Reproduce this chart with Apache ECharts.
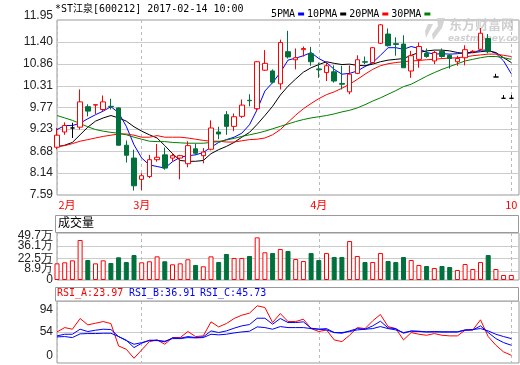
<!DOCTYPE html>
<html>
<head>
<meta charset="utf-8">
<title>*ST江泉 日K</title>
<script src="https://cdn.jsdelivr.net/npm/echarts@6.0.0/dist/echarts.min.js"></script>
<style>
  html, body { margin: 0; padding: 0; background: #fff; }
  #kline { width: 520px; height: 365px; }
</style>
</head>
<body>
<div id="kline"></div>
<script>
// *ST江泉[600212] 日K, 60个交易日

// 横轴上标出的日期
var tickIdx = [0, 11, 34, 59];
var tickText = ['2月', '3月', '4月', '10'];

// 开 收 低 高
var open = [8.78, 9.16, 9.26, 9.28, 9.79, 9.83, 9.72, 9.80, 9.76, 8.83,
  8.51, 7.98, 8.05, 8.47, 8.59, 8.51, 8.51, 8.37, 8.74, 8.57,
  8.73, 9.16, 9.59, 9.30, 9.55, 9.95, 9.74, 10.70, 10.68, 10.36,
  11.16, 10.96, 11.21, 11.11, 10.73, 10.64, 10.66, 10.37, 10.16, 10.62,
  10.91, 10.89, 11.37, 11.60, 11.36, 11.35, 10.68, 10.97, 11.12, 10.93,
  11.17, 11.07, 10.91, 11.01, 11.16, 11.22, 11.49, 10.53, 10.00, 10.00];
var close = [9.08, 9.32, 9.26, 9.91, 9.68, 9.84, 9.91, 9.79, 8.83, 8.58,
  7.82, 8.07, 8.47, 8.53, 8.26, 8.57, 8.57, 8.82, 8.63, 8.66,
  9.26, 9.11, 9.30, 9.54, 9.83, 9.94, 10.91, 10.87, 10.40, 11.39,
  11.03, 11.01, 11.24, 10.91, 10.71, 10.81, 10.43, 10.35, 10.60, 10.96,
  10.90, 11.26, 11.83, 11.31, 11.34, 10.76, 11.06, 11.29, 11.04, 11.14,
  11.04, 10.99, 10.99, 11.21, 11.17, 11.62, 11.16, 10.53, 10.00, 10.00];
var low = [8.73, 9.09, 9.01, 9.22, 9.55, 9.61, 9.68, 9.72, 8.82, 8.40,
  7.70, 7.71, 8.01, 8.42, 8.22, 8.42, 7.98, 8.28, 8.59, 8.38,
  8.70, 8.98, 9.09, 9.18, 9.51, 9.80, 9.68, 10.68, 10.37, 10.22,
  10.99, 10.72, 11.04, 10.81, 10.51, 10.43, 10.39, 10.22, 10.10, 10.60,
  10.85, 10.86, 11.35, 11.29, 11.06, 10.76, 10.51, 10.76, 11.01, 10.85,
  11.01, 10.74, 10.81, 10.82, 11.12, 11.18, 11.12, 10.53, 10.00, 10.00];
var high = [9.26, 9.40, 9.39, 10.22, 9.85, 9.85, 10.07, 9.99, 9.77, 8.95,
  8.72, 8.13, 8.59, 8.86, 8.77, 8.63, 8.59, 8.93, 8.87, 8.76,
  9.45, 9.29, 9.68, 9.62, 9.97, 10.10, 10.93, 11.20, 10.72, 11.46,
  11.68, 11.24, 11.29, 11.28, 10.89, 10.89, 10.82, 10.81, 10.82, 11.07,
  11.04, 11.27, 11.85, 11.74, 11.52, 11.57, 11.18, 11.39, 11.24, 11.18,
  11.24, 11.10, 11.06, 11.32, 11.20, 11.75, 11.60, 10.61, 10.08, 10.08];

// 均线
var ma5 = [9.22, 9.32, 9.32, 9.38, 9.49, 9.59, 9.68, 9.79, 9.64, 9.30,
  8.84, 8.51, 8.34, 8.30, 8.26, 8.42, 8.53, 8.57, 8.59, 8.65,
  8.78, 8.90, 8.97, 9.03, 9.13, 9.34, 9.72, 10.18, 10.39, 10.64,
  10.95, 11.00, 11.06, 11.14, 10.99, 10.89, 10.72, 10.60, 10.62, 10.68,
  10.79, 10.89, 11.07, 11.26, 11.26, 11.22, 11.29, 11.24, 11.14, 11.10,
  11.11, 11.10, 11.11, 11.14, 11.14, 11.20, 11.20, 11.12, 10.93, 10.61];
var ma10 = [8.79, 8.83, 8.90, 9.09, 9.28, 9.43, 9.51, 9.57, 9.51, 9.43,
  9.29, 9.18, 9.09, 9.01, 8.82, 8.62, 8.45, 8.43, 8.43, 8.45,
  8.62, 8.72, 8.80, 8.90, 9.03, 9.15, 9.35, 9.57, 9.80, 10.08,
  10.30, 10.48, 10.65, 10.76, 10.84, 10.91, 10.87, 10.84, 10.85, 10.82,
  10.81, 10.85, 10.91, 10.95, 10.97, 10.99, 11.07, 11.14, 11.18, 11.20,
  11.20, 11.18, 11.14, 11.11, 11.14, 11.16, 11.18, 11.14, 11.01, 10.89];
var ma20 = [8.80, 8.82, 8.87, 8.93, 8.97, 9.01, 9.05, 9.08, 9.11, 9.11,
  9.08, 9.03, 9.03, 9.07, 9.03, 9.03, 9.03, 9.01, 8.98, 8.95,
  8.93, 8.93, 8.91, 8.91, 8.94, 8.97, 8.98, 9.01, 9.09, 9.22,
  9.40, 9.58, 9.74, 9.87, 9.99, 10.09, 10.16, 10.25, 10.35, 10.47,
  10.60, 10.72, 10.81, 10.86, 10.89, 10.91, 10.93, 10.94, 10.96, 10.97,
  10.99, 11.00, 11.01, 11.03, 11.06, 11.08, 11.10, 11.10, 11.07, 11.04];
var ma30 = [9.57, 9.51, 9.45, 9.37, 9.29, 9.22, 9.18, 9.15, 9.13, 9.09,
  9.03, 8.98, 8.93, 8.92, 8.92, 8.90, 8.89, 8.88, 8.88, 8.88,
  8.90, 8.92, 8.96, 9.00, 9.05, 9.09, 9.13, 9.18, 9.24, 9.30,
  9.36, 9.42, 9.47, 9.51, 9.54, 9.57, 9.61, 9.66, 9.70, 9.76,
  9.84, 9.93, 10.01, 10.10, 10.19, 10.29, 10.35, 10.45, 10.55, 10.64,
  10.72, 10.79, 10.86, 10.93, 10.97, 11.01, 11.04, 11.04, 11.01, 10.97];

// 成交量(万)
var vol = [17.6, 18.7, 20.8, 42.3, 21.1, 17.6, 20.8, 18.0, 24.0, 19.0,
  26.4, 18.7, 19.8, 25.0, 19.8, 16.6, 17.6, 21.9, 15.9, 14.5,
  25.0, 19.0, 27.5, 23.3, 23.3, 25.4, 45.1, 29.3, 28.5, 32.8,
  30.7, 22.2, 20.1, 28.5, 21.1, 28.5, 24.3, 24.3, 41.2, 25.4,
  19.0, 19.0, 28.5, 20.1, 19.0, 24.3, 21.1, 15.9, 14.8, 12.7,
  14.8, 13.7, 10.6, 16.9, 11.6, 19.0, 26.4, 11.6, 5.3, 5.3];

// RSI
var rsiA = [54.1, 59.7, 57.6, 71.4, 63.2, 65.3, 67.5, 64.9, 36.0, 31.7,
  20.1, 30.9, 41.6, 43.8, 38.2, 46.8, 46.8, 54.6, 48.1, 49.0,
  67.1, 60.6, 64.9, 71.4, 75.7, 78.3, 87.8, 85.6, 66.2, 77.8,
  67.5, 67.5, 70.5, 58.4, 54.6, 56.7, 43.8, 41.6, 49.8, 59.7,
  58.4, 68.4, 76.6, 61.0, 58.4, 43.8, 53.3, 51.1, 49.8, 52.0,
  49.8, 49.0, 49.0, 56.3, 56.7, 69.7, 48.1, 36.9, 28.3, 24.0];
var rsiB = [49.0, 51.1, 51.1, 57.6, 54.6, 56.3, 57.6, 57.2, 48.1, 43.4,
  33.9, 39.5, 43.4, 43.4, 41.2, 46.4, 45.9, 48.1, 46.8, 47.7,
  55.4, 53.3, 55.4, 58.9, 61.9, 63.6, 71.8, 71.8, 64.1, 71.4,
  66.2, 66.2, 67.1, 58.9, 57.6, 58.4, 53.3, 52.4, 55.4, 58.4,
  57.6, 61.9, 67.9, 59.3, 58.4, 52.4, 55.4, 55.0, 54.1, 54.6,
  54.1, 54.1, 54.1, 56.7, 56.7, 61.9, 53.3, 45.5, 40.3, 36.9];
var rsiC = [47.7, 48.1, 46.8, 51.6, 52.0, 52.0, 52.4, 52.4, 48.1, 42.9,
  38.2, 40.3, 42.9, 42.9, 42.1, 45.5, 45.5, 46.8, 46.4, 46.8,
  51.1, 50.3, 51.1, 52.8, 54.1, 55.0, 60.6, 59.7, 57.6, 61.0,
  59.7, 59.7, 59.7, 58.4, 57.6, 56.7, 53.3, 53.3, 54.6, 56.7,
  57.6, 58.4, 61.0, 58.4, 56.7, 53.3, 55.0, 54.6, 54.1, 54.1,
  54.1, 54.1, 54.1, 56.3, 57.2, 58.4, 55.4, 51.1, 48.1, 45.5];

// 纵轴刻度 (成交量刻度分两组, 避免相邻标签被自动隐藏; 底部 0 用极小值代替)
var priceTicks = [7.59, 8.14, 8.68, 9.23, 9.77, 10.31, 10.86, 11.40, 11.95];
var volTicksA = [0.001, 22.5, 49.7];
var volTicksB = [8.9, 36.1];
var rsiTicks = [14, 54, 94];

var RED = '#ff0000';
var GREEN = '#00703c';
var BLUE = '#0000ff';
var MONO = '"DejaVu Sans Mono", "Noto Sans CJK SC", monospace';

var categories = [];
for (var i = 0; i <= open.length; i++) categories.push('');
for (var k = 0; k < tickIdx.length; k++) categories[tickIdx[k]] = tickText[k];

var candleData = open.map(function (o, i) {
  var item = { value: [o, close[i], low[i], high[i]] };
  // 开盘=收盘 画黑色
  if (o === close[i]) {
    item.itemStyle = { color: '#000', color0: '#000', borderColor: '#000', borderColor0: '#000' };
  }
  return item;
});

var volData = vol.map(function (v, i) {
  var up = close[i] >= open[i];
  return {
    value: v,
    itemStyle: up
      ? { color: '#fff', borderColor: RED, borderWidth: 1 }
      : { color: GREEN, borderColor: GREEN, borderWidth: 1 }
  };
});

function showTick(idx) {
  return tickIdx.indexOf(idx) >= 0;
}

function xAxisFor(gridIndex, withLabel) {
  return {
    type: 'category',
    gridIndex: gridIndex,
    data: categories,
    boundaryGap: false,
    axisLine: { show: false },
    axisTick: { show: false },
    axisLabel: {
      show: withLabel,
      interval: 0,
      color: RED,
      fontSize: 11,
      fontFamily: '"Noto Sans CJK SC", sans-serif',
      margin: 4,
      formatter: function (value, idx) {
        return idx === 0 && value ? '{first|' + value + '}' : value;
      },
      rich: { first: { padding: [0, 0, 0, 20], color: RED, fontSize: 11, fontFamily: '"Noto Sans CJK SC", sans-serif' } }
    },
    splitLine: {
      show: true,
      interval: showTick,
      lineStyle: { color: '#bbb', type: [3, 3], width: 1 }
    }
  };
}

var labelBase = { color: '#222', fontSize: 12, fontFamily: '"Liberation Sans", Arial, sans-serif', margin: 4 };

function volAxis(ticks) {
  return {
    type: 'value', gridIndex: 1, min: 0, max: 49.7,
    position: 'left', offset: 0,
    axisLine: { show: false },
    axisTick: { show: false, customValues: ticks },
    axisLabel: Object.assign({}, labelBase, {
      customValues: ticks,
      showMinLabel: true,
      showMaxLabel: true,
      formatter: function (v) {
        if (v < 1) return '0';
        if (v === 49.7) return '{top|49.7万}';
        if (v === 8.9) return '{up|8.9万}';
        return v + '万';
      },
      rich: {
        top: Object.assign({}, labelBase, { padding: [6, 0, 0, 0] }),
        up: Object.assign({}, labelBase, { padding: [0, 0, 6, 0] })
      }
    }),
    splitLine: { lineStyle: { color: '#ccc', width: 1 } }
  };
}

var chart = echarts.init(document.getElementById('kline'));

var option = {
  animation: false,
  backgroundColor: '#fff',
  legend: {
    left: 266,
    top: 4,
    itemWidth: 6,
    itemHeight: 3,
    itemGap: 3,
    align: 'right',
    icon: 'rect',
    selectedMode: false,
    textStyle: { fontFamily: MONO, fontSize: 10, color: '#000', padding: [0, -2, 0, 0] },
    data: ['5PMA', '10PMA', '20PMA', '30PMA']
  },
  grid: [
    { left: 57, right: 1, top: 20, height: 175, show: true, borderColor: '#999', borderWidth: 1, outerBoundsMode: 'none' },
    { left: 57, right: 1, top: 233, height: 47, show: true, borderColor: '#999', borderWidth: 1, outerBoundsMode: 'none' },
    { left: 57, right: 1, top: 301, height: 62, show: true, borderColor: '#999', borderWidth: 1, outerBoundsMode: 'none' }
  ],
  xAxis: [xAxisFor(0, true), xAxisFor(1, false), xAxisFor(2, false)],
  yAxis: [
    {
      type: 'value', gridIndex: 0, min: 7.59, max: 11.95,
      axisLine: { show: false },
      axisTick: { show: false, customValues: priceTicks },
      axisLabel: Object.assign({}, labelBase, {
        customValues: priceTicks,
        showMinLabel: true,
        showMaxLabel: true,
        formatter: function (v) {
          return v === 11.95 ? '{top|' + v.toFixed(2) + '}' : v.toFixed(2);
        },
        rich: { top: Object.assign({}, labelBase, { padding: [0, 0, 8, 0] }) }
      }),
      splitLine: { lineStyle: { color: '#ccc', width: 1 } }
    },
    volAxis(volTicksA),
    {
      type: 'value', gridIndex: 2, min: 14, max: 94,
      axisLine: { show: false },
      axisTick: { show: false, customValues: rsiTicks },
      axisLabel: Object.assign({}, labelBase, {
        customValues: rsiTicks,
        showMinLabel: true,
        showMaxLabel: true,
        formatter: function (v) {
          if (v === 94) return '{top|94}';
          if (v === 14) return '{bot|0}';
          return String(v);
        },
        rich: {
          top: Object.assign({}, labelBase, { padding: [18, 0, 0, 0] }),
          bot: Object.assign({}, labelBase, { padding: [0, 0, 14, 0] })
        }
      }),
      splitLine: { lineStyle: { color: '#ccc', width: 1 } }
    },
    volAxis(volTicksB)
  ],
  graphic: [
    {
      type: 'text', left: 55, top: 4, z: 10,
      style: { text: '*ST江泉[600212] 2017-02-14 10:00', font: '10px ' + MONO, fill: '#000' }
    },
    {
      type: 'polygon', z: 0,
      shape: { points: [[437, 18], [445, 18], [442, 28], [433, 40], [432, 34], [438, 26]] },
      style: { fill: '#d4d4d4' }
    },
    {
      type: 'polygon', z: 0,
      shape: { points: [[428, 24], [433, 24], [426, 38], [425, 31]] },
      style: { fill: '#d4d4d4' }
    },
    {
      type: 'text', left: 449, top: 18, z: 0,
      style: { text: '东方财富网', font: 'bold 13px "Noto Sans CJK SC"', fill: '#cfcfcf' }
    },
    {
      type: 'text', left: 448, top: 34, z: 0,
      style: { text: 'eastmoney.com', font: 'italic bold 9px "DejaVu Sans"', fill: '#d0d0d0' }
    },
    {
      type: 'rect', z: 1,
      shape: { x: 55.5, y: 215.5, width: 463, height: 17 },
      style: { fill: '#fff', stroke: '#999', lineWidth: 1 }
    },
    {
      type: 'text', left: 58, top: 216, z: 2,
      style: { text: '成交量', font: '12px "Noto Sans CJK SC"', fill: '#000' }
    },
    {
      type: 'rect', z: 1,
      shape: { x: 55.5, y: 287.5, width: 463, height: 13.5 },
      style: { fill: '#fff', stroke: '#999', lineWidth: 1 }
    },
    {
      type: 'text', left: 57, top: 288, z: 2,
      style: { text: 'RSI_A:23.97', font: '10px ' + MONO, fill: RED }
    },
    {
      type: 'text', left: 129, top: 288, z: 2,
      style: { text: 'RSI_B:36.91', font: '10px ' + MONO, fill: BLUE }
    },
    {
      type: 'text', left: 200, top: 288, z: 2,
      style: { text: 'RSI_C:45.73', font: '10px ' + MONO, fill: BLUE }
    }
  ],
  series: [
    { name: '5PMA', type: 'line', xAxisIndex: 0, yAxisIndex: 0, data: ma5, symbol: 'none', z: 2, color: BLUE, lineStyle: { width: 1, color: BLUE } },
    { name: '10PMA', type: 'line', xAxisIndex: 0, yAxisIndex: 0, data: ma10, symbol: 'none', z: 2, color: '#000', lineStyle: { width: 1, color: '#000' } },
    { name: '20PMA', type: 'line', xAxisIndex: 0, yAxisIndex: 0, data: ma20, symbol: 'none', z: 2, color: RED, lineStyle: { width: 1, color: RED } },
    { name: '30PMA', type: 'line', xAxisIndex: 0, yAxisIndex: 0, data: ma30, symbol: 'none', z: 2, color: '#008000', lineStyle: { width: 1, color: '#008000' } },
    {
      name: 'K', type: 'candlestick', xAxisIndex: 0, yAxisIndex: 0, z: 3,
      barWidth: 5, clip: false,
      itemStyle: { color: '#fff', color0: GREEN, borderColor: RED, borderColor0: GREEN, borderWidth: 1 },
      data: candleData
    },
    {
      name: '成交量', type: 'bar', xAxisIndex: 1, yAxisIndex: 1,
      barWidth: 5, clip: false,
      data: volData
    },
    { name: 'RSI_A', type: 'line', xAxisIndex: 2, yAxisIndex: 2, data: rsiA, symbol: 'none', lineStyle: { width: 1, color: RED } },
    { name: 'RSI_B', type: 'line', xAxisIndex: 2, yAxisIndex: 2, data: rsiB, symbol: 'none', lineStyle: { width: 1, color: BLUE } },
    { name: 'RSI_C', type: 'line', xAxisIndex: 2, yAxisIndex: 2, data: rsiC, symbol: 'none', lineStyle: { width: 1, color: BLUE } }
  ]
};

chart.setOption(option);
</script>
</body>
</html>
